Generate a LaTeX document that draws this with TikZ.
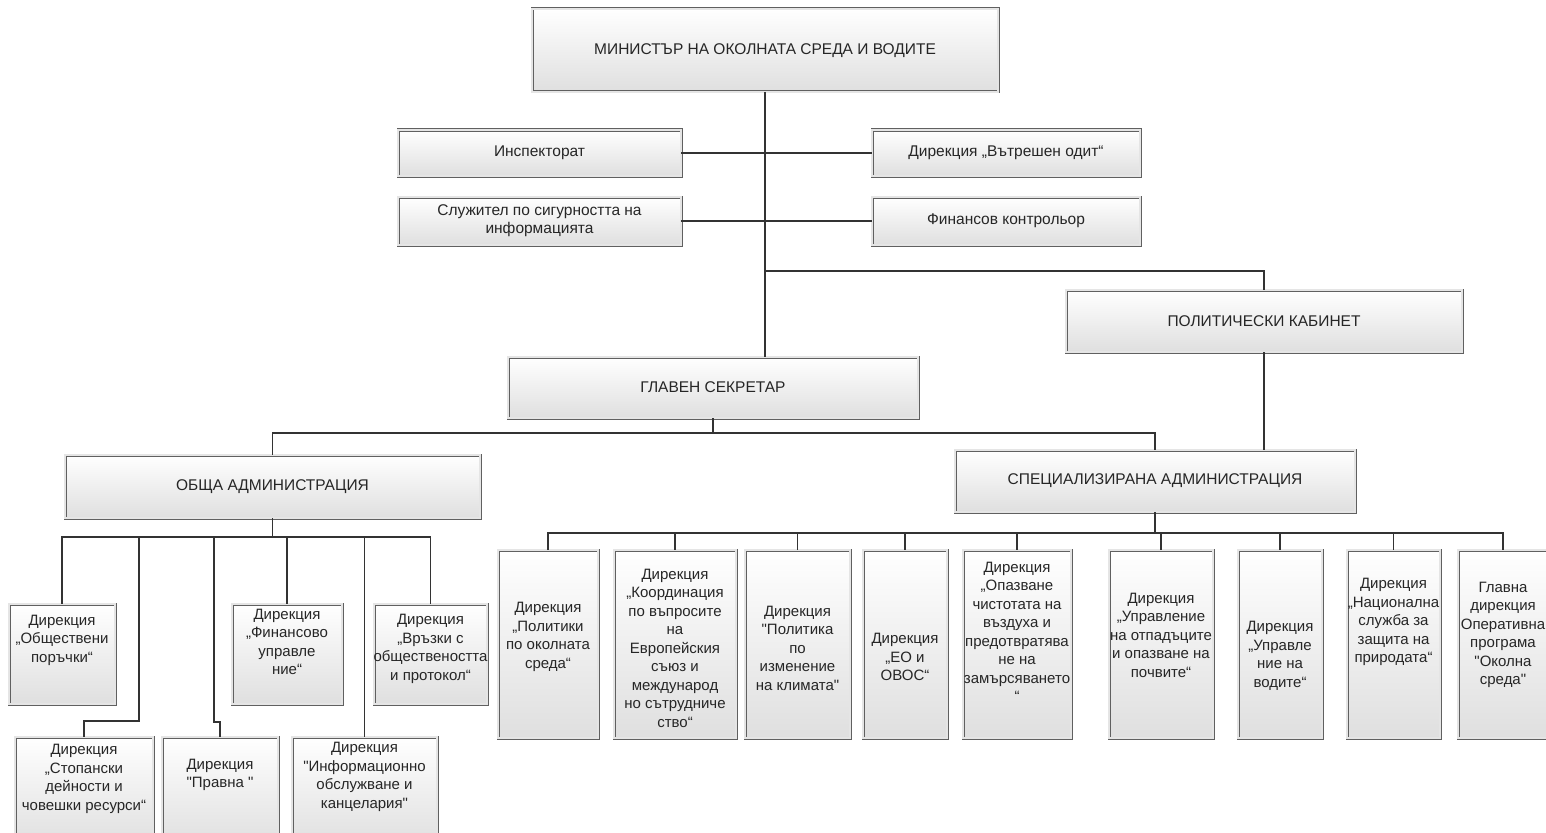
\documentclass[tikz,border=0pt]{standalone}
\usepackage{fontspec}
\setmainfont{Liberation Sans}
\usetikzlibrary{shadows}

\begin{document}
\begin{tikzpicture}[x=1pt,y=-1pt]

    \tikzstyle{orgbox} = [draw=gray!75!black, line width=0.7, double=gray!20, double distance=1.6, top color=white, bottom color=gray!25, drop shadow={opacity=0.3, shadow xshift=1.5pt, shadow yshift=-1.5pt}, anchor=north west, inner sep=0, outer sep=0, text=black!85, align=center, font=\fontsize{15.5}{18}\selectfont]
    \tikzstyle{dirtext} = [align=center, inner sep=0, text=black!85, font=\fontsize{15}{18.5}\selectfont]
    \tikzstyle{link} = [draw=gray!40!black, line width=1.1]

    \useasboundingbox (0,0) rectangle (1546,832);
    \clip (0,0) rectangle (1546,832);

    % top levels
    \node[orgbox, minimum width=466, minimum height=83] (min) at (532,9) {МИНИСТЪР НА ОКОЛНАТА СРЕДА И ВОДИТЕ};

    \node[orgbox, minimum width=283, minimum height=46] (insp) at (398,130) {Инспекторат};
    \node[orgbox, minimum width=268, minimum height=46] (odit) at (872,130) {Дирекция „Вътрешен одит“};
    \node[orgbox, minimum width=283, minimum height=48] (sig) at (398,197) {Служител по сигурността на\\информацията};
    \node[orgbox, minimum width=268, minimum height=48] (fk) at (872,197) {Финансов контрольор};

    \node[orgbox, minimum width=396, minimum height=62] (pk) at (1066,290) {ПОЛИТИЧЕСКИ КАБИНЕТ};
    \node[orgbox, minimum width=410, minimum height=61] (gs) at (508,357) {ГЛАВЕН СЕКРЕТАР};
    \node[orgbox, minimum width=415, minimum height=63] (oa) at (65,455) {ОБЩА АДМИНИСТРАЦИЯ};
    \node[orgbox, minimum width=400, minimum height=62] (sa) at (955,450) {СПЕЦИАЛИЗИРАНА АДМИНИСТРАЦИЯ};

    % general administration
    \node[orgbox, minimum width=106, minimum height=100] (obp) at (9,604) {};
    \node[orgbox, minimum width=110, minimum height=100] (fin) at (232,604) {};
    \node[orgbox, minimum width=113, minimum height=100] (vr) at (374,604) {};
    \node[orgbox, minimum width=138, minimum height=110] (stop) at (15,737) {};
    \node[orgbox, minimum width=116, minimum height=110] (pr) at (162,737) {};
    \node[orgbox, minimum width=145, minimum height=110] (inf) at (292,737) {};

    \node[dirtext] (obp-t) at ([yshift=14pt]obp.center) {Дирекция\\„Обществени\\поръчки“};
    \node[dirtext] (fin-t) at ([yshift=12pt]fin.center) {Дирекция\\„Финансово\\управле\\ние“};
    \node[dirtext] (vr-t) at ([yshift=5pt]vr.center) {Дирекция\\„Връзки с\\обществеността\\и протокол“};
    \node[dirtext] (stop-t) at ([yshift=13pt]stop.center) {Дирекция\\„Стопански\\дейности и\\човешки ресурси“};
    \node[dirtext] (pr-t) at ([yshift=17pt]pr.center) {Дирекция\\\textquotedbl Правна \textquotedbl};
    \node[dirtext] (inf-t) at ([yshift=15pt]inf.center) {Дирекция\\\textquotedbl Информационно\\обслужване и\\канцелария\textquotedbl};

    % specialised administration
    \node[orgbox, minimum width=100, minimum height=188] (pol) at (498,550) {};
    \node[orgbox, minimum width=122, minimum height=188] (koo) at (614,550) {};
    \node[orgbox, minimum width=105, minimum height=188] (kli) at (745,550) {};
    \node[orgbox, minimum width=84, minimum height=188] (eo) at (863,550) {};
    \node[orgbox, minimum width=108, minimum height=188] (opa) at (963,550) {};
    \node[orgbox, minimum width=104, minimum height=188] (otp) at (1109,550) {};
    \node[orgbox, minimum width=84, minimum height=188] (vod) at (1238,550) {};
    \node[orgbox, minimum width=93, minimum height=188] (nac) at (1347,550) {};
    \node[orgbox, minimum width=90, minimum height=188] (gla) at (1458,550) {};

    \node[dirtext] (pol-t) at ([yshift=7pt]pol.center) {Дирекция\\„Политики\\по околната\\среда“};
    \node[dirtext] (koo-t) at ([yshift=-4pt]koo.center) {Дирекция\\„Координация\\по въпросите\\на\\Европейския\\съюз и\\международ\\но сътрудниче\\ство“};
    \node[dirtext] (kli-t) at ([yshift=-4pt]kli.center) {Дирекция\\\textquotedbl Политика\\по\\изменение\\на климата\textquotedbl};
    \node[dirtext] (eo-t) at ([yshift=-13pt]eo.center) {Дирекция\\„ЕО и\\ОВОС“};
    \node[dirtext] (opa-t) at ([yshift=12pt]opa.center) {Дирекция\\„Опазване\\чистотата на\\въздуха и\\предотвратява\\не на\\замърсяването\\“};
    \node[dirtext] (otp-t) at ([yshift=9pt]otp.center) {Дирекция\\„Управление\\на отпадъците\\и опазване на\\почвите“};
    \node[dirtext] (vod-t) at ([yshift=-12pt]vod.center) {Дирекция\\„Управле\\ние на\\водите“};
    \node[dirtext] (nac-t) at ([yshift=22pt]nac.center) {Дирекция\\„Национална\\служба за\\защита на\\природата“};
    \node[dirtext] (gla-t) at ([yshift=9pt]gla.center) {Главна\\дирекция\\Оперативна\\програма\\\textquotedbl Околна\\среда\textquotedbl};

    % junctions
    \coordinate (j1) at (765,271);
    \coordinate (j2) at (713,433);
    \coordinate (j3) at (272.5,537);
    \coordinate (j4) at (1155,533);
    \coordinate (b2) at (139,721);
    \coordinate (b3) at (214,722);

    % connectors
    \draw[link] (min.south) -- (min.south |- gs.north);
    \draw[link] (insp.east) -- (odit.west);
    \draw[link] (sig.east) -- (fk.west);
    \draw[link] (j1) -| (pk.north);
    \draw[link] (pk.south) -- (pk.south |- sa.north);
    \draw[link] (gs.south) -- (j2);
    \draw[link] (j2) -| (oa.north);
    \draw[link] (j2) -| (sa.north);

    \draw[link] (oa.south) -- (j3);
    \draw[link] (j3) -| (obp.north);
    \draw[link] (j3) -| (b2) -| (stop.north);
    \draw[link] (j3) -| (b3) -| (pr.north);
    \draw[link] (j3) -| (fin.north);
    \draw[link] (j3) -| (inf.north);
    \draw[link] (j3) -| (vr.north);

    \draw[link] (sa.south) -- (j4);
    \foreach \d in {pol,koo,kli,eo,opa,otp,vod,nac,gla}
        \draw[link] (j4) -| (\d.north);

\end{tikzpicture}
\end{document}
